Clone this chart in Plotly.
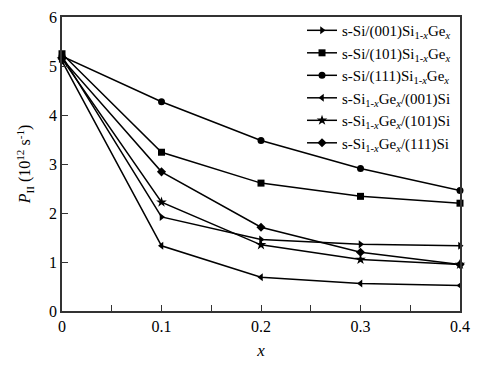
import plotly.graph_objects as go

x = [0, 0.1, 0.2, 0.3, 0.4]
names = [
    "s-Si/(001)Si<sub>1-<i>x</i></sub>Ge<sub><i>x</i></sub>",
    "s-Si/(101)Si<sub>1-<i>x</i></sub>Ge<sub><i>x</i></sub>",
    "s-Si/(111)Si<sub>1-<i>x</i></sub>Ge<sub><i>x</i></sub>",
    "s-Si<sub>1-<i>x</i></sub>Ge<sub><i>x</i></sub>/(001)Si",
    "s-Si<sub>1-<i>x</i></sub>Ge<sub><i>x</i></sub>/(101)Si",
    "s-Si<sub>1-<i>x</i></sub>Ge<sub><i>x</i></sub>/(111)Si",
]
si001 = [5.20, 1.92, 1.46, 1.36, 1.33]
si101 = [5.25, 3.24, 2.61, 2.34, 2.20]
si111 = [5.20, 4.27, 3.48, 2.91, 2.46]
sige001 = [5.10, 1.33, 0.69, 0.56, 0.52]
sige101 = [5.15, 2.22, 1.35, 1.05, 0.95]
sige111 = [5.15, 2.84, 1.71, 1.20, 0.95]
series = [si001, si101, si111, sige001, sige101, sige111]
symbols = ["triangle-right", "square", "circle", "triangle-left", "star", "diamond"]
sizes = [7, 7, 7, 7, 8, 7]

FAM = "Liberation Serif, Times New Roman, Times, serif"

fig = go.Figure()
for n, s, sym, sz in zip(names, series, symbols, sizes):
    fig.add_trace(go.Scatter(
        x=x, y=s, name=n, mode="lines+markers",
        line=dict(color="black", width=1.5),
        marker=dict(symbol=sym, size=sz, color="black"),
        cliponaxis=False,
    ))

fig.update_layout(
    width=491, height=369,
    margin=dict(l=62, r=31, t=17, b=58),
    paper_bgcolor="white", plot_bgcolor="white",
    font=dict(family=FAM, size=15, color="black"),
    showlegend=True,
    legend=dict(x=0.99, y=1.01, xanchor="right", yanchor="top",
                bgcolor="rgba(0,0,0,0)", font=dict(family=FAM, size=15),
                itemwidth=30, tracegroupgap=0),
    xaxis=dict(range=[0, 0.4], tickvals=[0, 0.05, 0.1, 0.15, 0.2, 0.25, 0.3, 0.35, 0.4],
               ticktext=["0", "", "0.1", "", "0.2", "", "0.3", "", "0.4"],
               ticks="inside", ticklen=6, tickcolor="#333", tickwidth=1.2,
               showgrid=False, zeroline=False, showline=True, linecolor="#333",
               linewidth=1.5, mirror=True, automargin=False,
               tickfont=dict(family=FAM, size=16),
               title=dict(text="<i>x</i>", standoff=10,
                          font=dict(family=FAM, size=17))),
    yaxis=dict(range=[0, 6], tickvals=[0, 1, 2, 3, 4, 5, 6],
               ticks="inside", ticklen=6, tickcolor="#333", tickwidth=1.2,
               showgrid=False, zeroline=False, showline=True, linecolor="#333",
               linewidth=1.5, mirror=True, automargin=False,
               tickfont=dict(family=FAM, size=16),
               title=dict(text="<i>P</i><sub>II</sub> (10<sup>12</sup> s<sup>-1</sup>)", standoff=14,
                          font=dict(family=FAM, size=16))),
)
fig.write_html("out.html", config={"displayModeBar": False},
               post_script="document.body.style.margin='0px';")
